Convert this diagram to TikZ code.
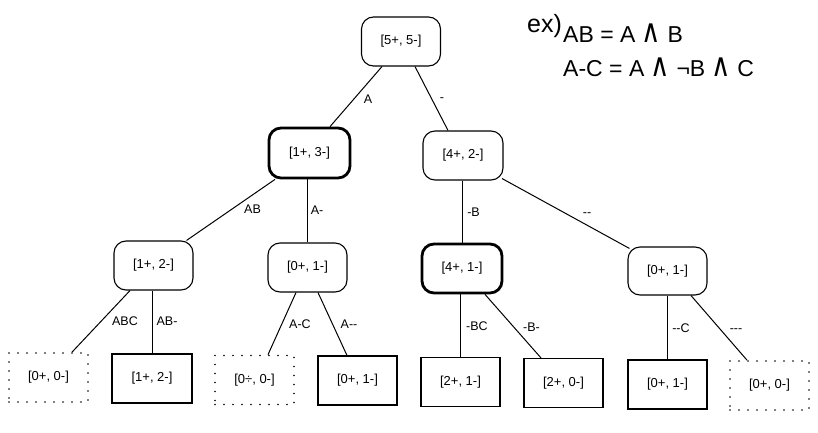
\documentclass[tikz,border=0pt]{standalone}
\usepackage{fontspec}
\usepackage{graphicx}
\setmainfont{Liberation Sans}
\newfontfamily\symfont{DejaVu Sans}
\usetikzlibrary{calc}
\newcommand{\myand}{\scalebox{1.15}[1.4]{\symfont ∧}}
\begin{document}
\begin{tikzpicture}[x=1pt,y=-1pt,
  inner/.style={draw, rounded corners=12pt, line width=1.1pt, minimum width=79pt, minimum height=49pt, inner sep=0pt, font=\fontsize{13}{15}\selectfont},
  innerbold/.style={inner, line width=2.8pt},
  leaf/.style={draw, line width=1.1pt, minimum width=79pt, minimum height=49pt, inner sep=0pt, font=\fontsize{13}{15}\selectfont},
  leafbold/.style={leaf, line width=2.8pt},
  leafdot/.style={leaf, line width=1.7pt, line cap=round, dash pattern=on 0pt off 9pt},
  conn/.style={line width=1pt},
  elab/.style={anchor=base, inner sep=0pt, font=\fontsize{12.5}{14}\selectfont},
  note/.style={anchor=base west, inner sep=0pt}
]
\useasboundingbox[fill=white] (0,0) rectangle (818,433);

% inner nodes
\node[inner]     (root) at (401,41.5)  {[5+, 5-]};
\node[innerbold, minimum width=81pt, minimum height=50pt] (n13) at (309.5,153) {[1+, 3-]};
\node[inner, minimum width=80pt] (n42) at (463,155.5) {[4+, 2-]};
\node[inner]     (n12) at (153.5,265.5) {[1+, 2-]};
\node[inner]     (n01) at (307.5,267.5) {[0+, 1-]};
\node[innerbold, minimum width=80pt] (n41) at (462,268.5) {[4+, 1-]};
\node[inner, minimum height=48pt] (n01r) at (667.5,271) {[0+, 1-]};

% leaves
\node[leafdot]  (l1) at (48.5,377.5)  {[0+, 0-]};
\node[leaf, minimum width=80pt] (l2) at (152,378.5) {[1+, 2-]};
\node[leafdot]  (l3) at (254.5,380)   {[0÷, 0-]};
\node[leaf]     (l4) at (357.5,380.5) {[0+, 1-]};
\node[leaf]     (l5) at (460.5,382)   {[2+, 1-]};
\node[leaf]     (l6) at (563.5,383)   {[2+, 0-]};
\node[leafbold] (l7) at (667.5,384.5) {[0+, 1-]};
\node[leafdot]  (l8) at (769.5,385.5) {[0+, 0-]};

% connectors
\draw[conn] ([xshift=-19pt]root.south) -- ([xshift=20.5pt]n13.north);
\draw[conn] ([xshift=14pt]root.south) -- ([xshift=-15pt]n42.north);
\draw[conn] ([xshift=-34.5pt]n13.south) -- ([xshift=33pt]n12.north);
\draw[conn] (n01.north |- n13.south) -- (n01.north);
\draw[conn] (n41.north |- n42.south) -- (n41.north);
\draw[conn] ($(n42.south east)+(-1.5,-2)$) -- ($(n01r.north west)+(2,2)$);
\draw[conn] ([xshift=-23.5pt]n12.south) -- ([xshift=23.5pt]l1.north);
\draw[conn] (l2.north |- n12.south) -- (l2.north);
\draw[conn] ([xshift=-11.5pt]n01.south) -- ([xshift=13.5pt]l3.north);
\draw[conn] ([xshift=10.5pt]n01.south) -- ([xshift=-10.5pt]l4.north);
\draw[conn] (l5.north |- n41.south) -- (l5.north);
\draw[conn] ([xshift=23pt]n41.south) -- ([xshift=-22.5pt]l6.north);
\draw[conn] (l7.north |- n01r.south) -- (l7.north);
\draw[conn] ([xshift=23.5pt]n01r.south) -- ([xshift=-22.5pt]l8.north);

% edge labels
\node[elab] (tA)   at (368,103)   {A};
\node[elab] (tN)   at (442,102)   {-};
\node[elab] (tAB)  at (252.5,213) {AB};
\node[elab] (tAn)  at (317,214)   {A-};
\node[elab] (tnB)  at (473.5,216.5) {-B};
\node[elab] (tnn)  at (587,216.5) {-{}-};
\node[elab] (tABC) at (125,325)   {ABC};
\node[elab] (tABn) at (167,325)   {AB-};
\node[elab] (tAnC) at (300,328)   {A-C};
\node[elab] (tAnn) at (349,328)   {A-{}-};
\node[elab] (tnBC) at (477,330)   {-BC};
\node[elab] (tnBn) at (531.5,331.5) {-B-};
\node[elab] (tnnC) at (681,332)   {-{}-C};
\node[elab] (tnnn) at (736,332.5) {-{}-{}-};

% annotation
\node[note, font=\fontsize{25}{28}\selectfont] (ex) at (527,33) {ex)};
\node[note, font=\fontsize{23}{27}\selectfont] (def1) at (563,43) {AB = A \myand{} B};
\node[note, font=\fontsize{23}{27}\selectfont] (def2) at (563,77) {A-C = A \myand{} ¬B \myand{} C};
\end{tikzpicture}
\end{document}
